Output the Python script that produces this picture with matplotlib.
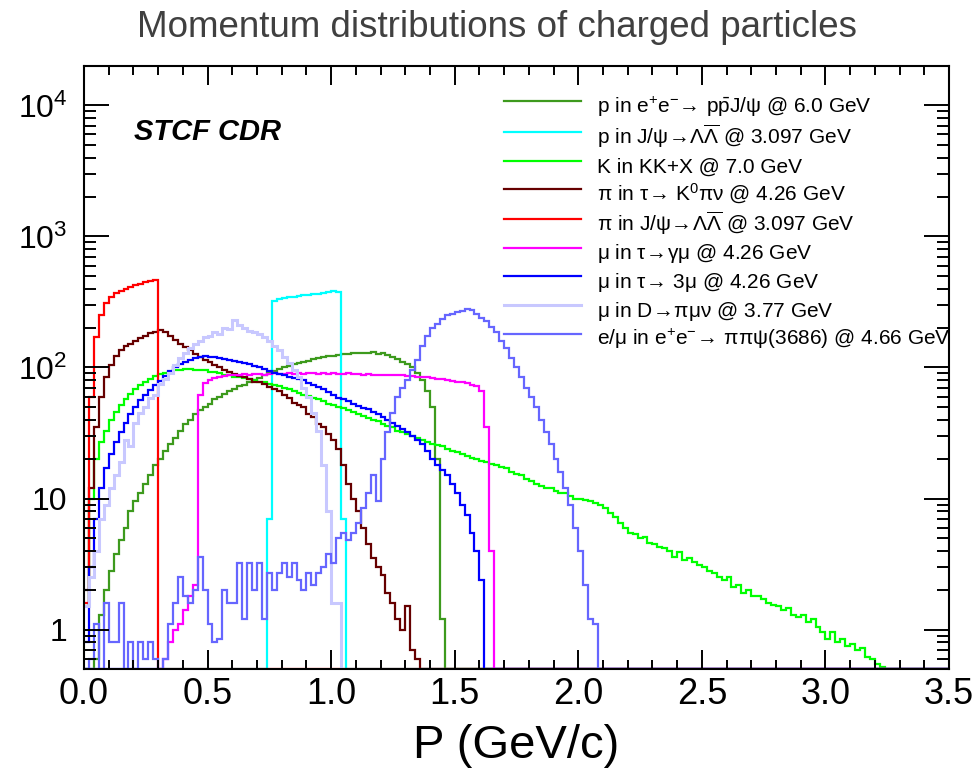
import numpy as np
import matplotlib
matplotlib.use("Agg")
import matplotlib.pyplot as plt
from matplotlib.ticker import FixedLocator, LogLocator, NullFormatter, MultipleLocator

plt.rcParams['font.family'] = ['Liberation Sans', 'DejaVu Sans']
plt.rcParams['mathtext.fontset'] = 'custom'
plt.rcParams['mathtext.rm'] = 'Liberation Sans'
plt.rcParams['mathtext.it'] = 'Liberation Sans:italic'
plt.rcParams['mathtext.bf'] = 'Liberation Sans:bold'
plt.rcParams['mathtext.default'] = 'regular'

# binning of all histograms (GeV/c)
bin_width = 0.02
p_max = 3.5
y_min, y_max = 0.5, 2.0e4

# each series: first bin lower edge and bin contents
ppjpsi_start = 0.04
ppjpsi_p = [0.6, 1.3, 2.0, 2.8, 3.8, 4.8, 6.0, 8.0, 9.5, 11, 13, 15, 18, 20, 23, 26, 29, 33, 37, 40,
            44, 47, 50, 53, 57, 60, 63, 66, 69, 72, 74, 77, 80, 83, 87, 90, 94, 97, 100, 103,
            106, 108, 111, 113, 116, 118, 120, 122, 123, 125, 127, 127, 129, 128, 130, 128, 131, 127, 128, 124,
            121, 117, 111, 106, 100, 91, 80, 66, 50, 20, 1.2]

ll_start = 0.74
ll_p = [7, 320, 335, 340, 345, 348, 352, 355, 358, 362, 365, 370, 375, 385, 375, 7]

kkx_start = 0.0
kkx_k = [1.5, 10, 20, 27, 33, 40, 46, 52, 57, 63, 68, 73, 78, 82, 86, 89, 91, 93, 95, 96,
         97, 97, 96, 96, 95, 93, 92, 90, 88, 87, 85, 84, 83, 81, 80, 78, 77, 75, 73, 72,
         70, 68, 66, 64, 62, 61, 59, 57, 55, 53, 52, 50, 49, 47, 46, 44, 43, 41, 40, 39,
         37, 36, 35, 33, 32, 31, 30, 29, 28, 27, 26, 25.5, 25, 24, 23, 22.5, 22, 21, 20.5, 20,
         19.5, 19, 18.5, 18, 17.5, 17, 16, 15.5, 15, 14, 13.5, 13, 12.5, 12, 12, 11.5, 11, 11, 10.5, 10,
         10, 9.7, 9.5, 9.2, 9.0, 8.5, 7.8, 7.2, 6.5, 6.0, 5.5, 5.4, 5.0, 5.1, 4.6, 4.5, 4.3, 4.2, 4.0, 3.6,
         3.9, 3.4, 3.5, 3.3, 3.1, 3.0, 2.8, 2.7, 2.5, 2.4, 2.5, 2.1, 2.2, 1.9, 2.0, 1.8, 1.8, 1.7, 1.6, 1.55,
         1.5, 1.4, 1.45, 1.3, 1.25, 1.3, 1.15, 1.2, 1.05, 0.95, 0.85, 0.95, 0.8, 0.85, 0.75, 0.78, 0.7, 0.72, 0.62, 0.6,
         0.55, 0.52]

k0pinu_start = 0.0
k0pinu_pi = [2, 12, 35, 60, 85, 105, 122, 135, 145, 152, 160, 167, 175, 182, 188, 192, 185, 175, 163, 152,
             143, 135, 127, 120, 115, 110, 104, 100, 96, 93, 89, 86, 84, 81, 78, 77, 75, 71, 68, 66,
             62, 58, 54, 52, 50, 44, 42, 37, 35, 31, 28, 24, 18, 13, 10, 8, 6, 4.5, 3.5, 3.0,
             2.6, 1.9, 1.6, 1.2, 1.0, 1.5, 0.7, 0.6]

ll_pi_start = 0.0
ll_pi = [1.6, 60, 170, 250, 310, 345, 368, 385, 400, 412, 425, 437, 447, 455, 465]

gmu_start = 0.32
gmu_mu = [0.6, 0.8, 1.0, 1.1, 1.4, 1.8, 2.2, 62, 76, 80, 83, 85, 86, 87, 88,
          88, 89, 88, 89, 89, 88, 89, 90, 89, 89, 90, 89, 90, 89, 90, 90, 89, 90, 89, 90,
          89, 89, 90, 89, 89, 88, 89, 88, 88, 88, 87, 88, 87, 87, 86,
          86, 85, 85, 84, 83, 82, 81, 80, 79, 78, 77, 76, 74, 72, 66, 35, 4]

mu3_start = 0.0
mu3_mu = [0.8, 3, 7, 12, 17, 22, 27, 32, 38, 44, 50, 56, 62, 67, 73, 79, 86, 94, 100, 106,
          111, 115, 119, 121, 122, 121, 120, 118, 117, 115, 113, 111, 108, 106, 103, 100, 97, 94, 91, 89,
          87, 85, 83, 82, 80, 76, 74, 71, 68, 65, 62, 59, 57, 55, 53, 51, 49, 48, 46, 44,
          42, 40, 38, 36, 34, 32, 30, 28, 26, 23, 20, 18, 16.5, 15, 13, 11, 9, 7.5, 5.5, 4,
          2.4]

dpimunu_start = 0.0
dpimunu_mu = [1.5, 2.5, 4, 7, 9, 12, 15, 19, 28, 25, 38, 45, 50, 58, 62, 75, 82, 90, 105, 118,
              128, 140, 150, 158, 170, 175, 185, 180, 200, 195, 230, 210, 200, 190, 185, 180, 170, 160, 145, 135,
              120, 108, 95, 85, 70, 60, 45, 33, 18, 8, 1.6, 1.6]

pipipsi_start = 0.0
pipipsi_emu = [0, 0.6, 1.1, 0.5, 1.6, 0.8, 0.8, 1.6, 0.5, 0.8, 0.5, 0.8, 0.6, 0.8, 0.6, 0.5, 0.6, 1.1, 1.6, 2.5,
               1.8, 1.6, 2.0, 3.6, 2.0, 1.1, 0.8, 0.84, 2.0, 1.6, 1.6, 3.2, 1.2, 3.2, 2.0, 3.2, 1.2, 2.7, 2.0, 2.7,
               3.2, 2.5, 3.2, 2.4, 2.0, 2.7, 2.2, 2.7, 3.0, 3.8, 3.2, 5.0, 5.5, 4.8, 5.5, 6.5, 8.5, 11, 15, 9.5,
               20, 32, 45, 60, 70, 80, 95, 115, 145, 175, 200, 215, 235, 250, 258, 265, 272, 280, 275, 255,
               240, 225, 205, 185, 160, 140, 118, 100, 85, 70, 60, 50, 40, 32, 26, 20, 16, 12, 9, 6,
               4, 2.2, 1.2, 1.1]

arrow = r"$\!\rightarrow\!$"
labels = [
    r"p in e$^{+}$e$^{-}$" + arrow + r" p$\bar{p}$J/ψ @ 6.0 GeV",
    r"p in J/ψ" + arrow + r"$\Lambda\overline{\Lambda}$ @ 3.097 GeV",
    "K in KK+X @ 7.0 GeV",
    "π in τ" + arrow + r" K$^{0}$πν @ 4.26 GeV",
    r"π in J/ψ" + arrow + r"$\Lambda\overline{\Lambda}$ @ 3.097 GeV",
    "μ in τ" + arrow + "γμ @ 4.26 GeV",
    "μ in τ" + arrow + " 3μ @ 4.26 GeV",
    "μ in D" + arrow + "πμν @ 3.77 GeV",
    r"e/μ in e$^{+}$e$^{-}$" + arrow + " ππψ(3686) @ 4.66 GeV",
]
starts = [ppjpsi_start, ll_start, kkx_start, k0pinu_start, ll_pi_start,
          gmu_start, mu3_start, dpimunu_start, pipipsi_start]
series = [ppjpsi_p, ll_p, kkx_k, k0pinu_pi, ll_pi, gmu_mu, mu3_mu, dpimunu_mu, pipipsi_emu]
colors = ['#3d9a1d', '#00ffff', '#00ff00', '#660000', '#ff0000',
          '#ff00ff', '#0000ff', '#c8c8ff', '#6666ff']

x_ticks = [0.0, 0.5, 1.0, 1.5, 2.0, 2.5, 3.0, 3.5]
x_tick_labels = ["0.0", "0.5", "1.0", "1.5", "2.0", "2.5", "3.0", "3.5"]
y_ticks = [1, 10, 100, 1000, 10000]
y_tick_labels = ["1", "10", r"$10^{2}$", r"$10^{3}$", r"$10^{4}$"]

n_bins = int(round(p_max / bin_width))
edges = np.linspace(0.0, p_max, n_bins + 1)


def full_hist(start, vals):
    h = np.zeros(n_bins)
    i0 = int(round(start / bin_width))
    h[i0:i0 + len(vals)] = vals
    # empty bins are drawn on the lower frame, as ROOT does
    return np.where(h > 0, h, y_min)


fig = plt.figure(figsize=(9.74, 7.76), dpi=100)
ax = fig.add_axes([0.0862, 0.1379, 0.8881, 0.7771])

for start, vals, col, lab in zip(starts, series, colors, labels):
    lw = 2.2 if col == '#c8c8ff' else 1.6
    ax.stairs(full_hist(start, vals), edges, baseline=None, color=col, lw=lw, label=lab)

ax.set_yscale('log')
ax.set_xlim(0, p_max)
ax.set_ylim(y_min, y_max)

ax.xaxis.set_major_locator(FixedLocator(x_ticks))
ax.set_xticklabels(x_tick_labels)
ax.xaxis.set_minor_locator(MultipleLocator(0.1))
ax.yaxis.set_major_locator(FixedLocator(y_ticks))
ax.set_yticklabels(y_tick_labels)
ax.yaxis.set_minor_locator(LogLocator(base=10, subs=np.arange(2, 10), numticks=20))
ax.yaxis.set_minor_formatter(NullFormatter())

ax.tick_params(axis='x', which='major', direction='in', top=True, length=13.5, width=1.4,
               labelsize=26, pad=6)
ax.tick_params(axis='x', which='minor', direction='in', top=True, length=6.5, width=1.4)
ax.tick_params(axis='y', which='major', direction='in', right=True, length=18, width=1.4,
               labelsize=23, pad=12)
ax.tick_params(axis='y', which='minor', direction='in', right=True, length=8.5, width=1.4)
for s in ax.spines.values():
    s.set_linewidth(1.5)

ax.set_xlabel("P (GeV/c)", fontsize=34, va='center')
ax.xaxis.set_label_coords(0.5, -0.128)

ax.text(0.058, 0.89, "STCF CDR", transform=ax.transAxes, fontsize=21,
        fontweight='bold', fontstyle='italic', va='center', ha='left')

ax.legend(loc='upper left', bbox_to_anchor=(0.4855, 0.953), frameon=False, fontsize=15,
          handlelength=3.7, handleheight=1.35, handletextpad=0.75, labelspacing=0.19,
          borderpad=0, borderaxespad=0)

fig.text(0.51, 0.965, "Momentum distributions of charged particles", fontsize=26.5,
         color='#404040', ha='center', va='center')

fig.savefig("out.png", dpi=100)
